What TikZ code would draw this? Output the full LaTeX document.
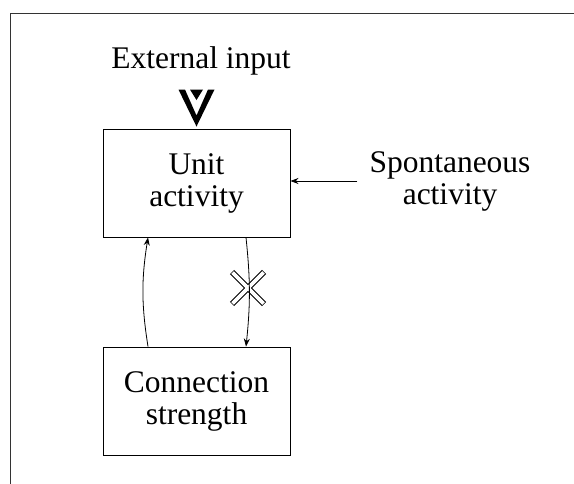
\documentclass[tikz,border=0pt]{standalone}
\usepackage{fontspec}
\setmainfont{Liberation Serif}
\usetikzlibrary{arrows.meta}
\begin{document}
\begin{tikzpicture}[x=1pt,y=-1pt,
  lbl/.style={font=\fontsize{31.5}{32}\selectfont, align=center, inner sep=0pt},
  box/.style={lbl, draw, line width=0.9pt, minimum width=187pt, minimum height=108pt},
  arr/.style={line width=0.8pt, -{Stealth[length=8pt,width=6pt]}}]
\useasboundingbox (0,0) rectangle (574,484);
% frame
\draw[line width=0.9pt, black!80] (10,484) -- (10,13) -- (574,13);
% boxes
\node[box] (ua) at (196.5,183) {Unit\\activity};
\node[box] (cs) at (196.5,401) {Connection\\strength};
% labels
\node[lbl, anchor=base] (ext) at (201,69) {External input};
\node[lbl] (spont) at (450,181) {Spontaneous\\activity};
% external input symbol
\begin{scope}[shift={(ua.north)}]
  \fill (-18,-39) -- (0,-2) -- (18,-39) -- (11.5,-39) -- (0,-13) -- (-11.5,-39) -- cycle;
  \fill (-6.5,-39) -- (6.5,-39) -- (0,-28.5) -- cycle;
\end{scope}
% spontaneous arrow
\draw[arr] ([xshift=-12pt]spont.west) -- (ua.east |- spont.west);
% cross (blocked connection)
\coordinate (x) at (248,288);
\draw[line width=6pt] ([shift={(-16,-16)}]x) -- ([shift={(16,16)}]x)
                      ([shift={(-16,16)}]x) -- ([shift={(16,-16)}]x);
\draw[line width=3.8pt, white] ([shift={(-15.5,-15.5)}]x) -- ([shift={(15.5,15.5)}]x)
                      ([shift={(-15.5,15.5)}]x) -- ([shift={(15.5,-15.5)}]x);
% loop arrows
\draw[arr] ([xshift=-48.5pt]cs.north) to[bend left=9] ([xshift=-48.5pt]ua.south);
\draw[arr] ([xshift=49.5pt]ua.south) to[bend left=6] ([xshift=49.5pt]cs.north);
\end{tikzpicture}
\end{document}
